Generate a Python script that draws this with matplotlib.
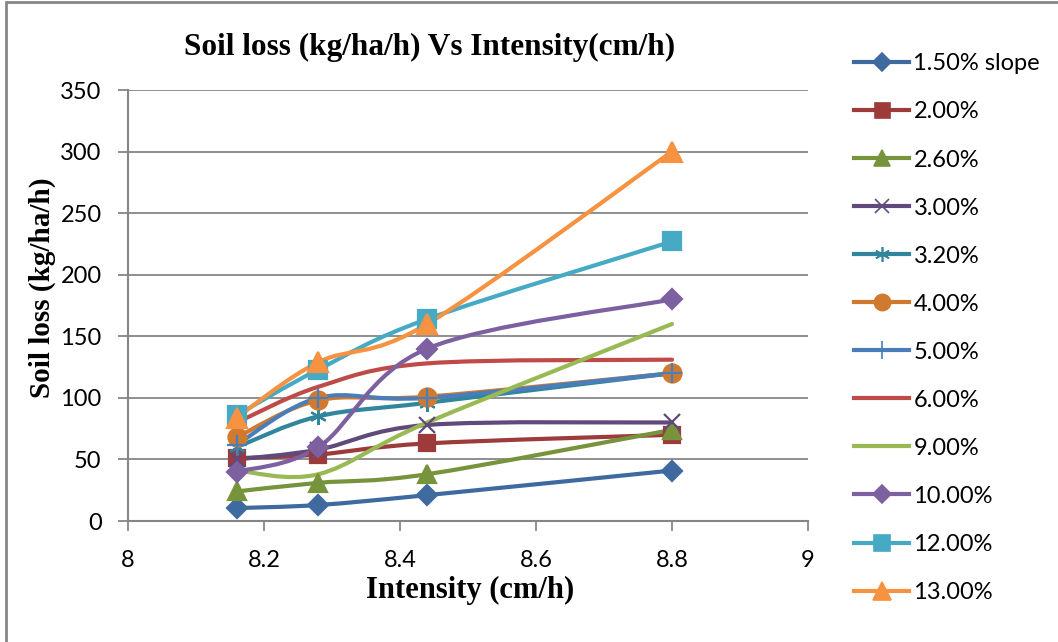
import matplotlib
matplotlib.use("Agg")
import matplotlib.pyplot as plt
from matplotlib.path import Path
from matplotlib.patches import PathPatch, Rectangle
from matplotlib.lines import Line2D

# rainfall intensity (cm/h) and soil loss (kg/ha/h) per slope class
intensity = [8.16, 8.28, 8.44, 8.8]
slopes = ["1.50% slope", "2.00%", "2.60%", "3.00%", "3.20%", "4.00%",
          "5.00%", "6.00%", "9.00%", "10.00%", "12.00%", "13.00%"]
loss_150 = [10.5, 13, 21, 41]
loss_200 = [51, 54, 63, 70]
loss_260 = [24, 31, 38, 74]
loss_300 = [50, 58, 78, 80]
loss_320 = [60, 85, 96, 120]
loss_400 = [68, 98, 101, 120]
loss_500 = [62, 100, 100, 120]
loss_600 = [80, 109, 128, 131]
loss_900 = [41, 38, 80, 160]
loss_1000 = [40, 60, 140, 180]
loss_1200 = [86, 123, 164, 227]
loss_1300 = [84, 129, 160, 300]
series = [loss_150, loss_200, loss_260, loss_300, loss_320, loss_400,
          loss_500, loss_600, loss_900, loss_1000, loss_1200, loss_1300]

colors = ["#3E6AA0", "#9C3B3A", "#77933C", "#604A7B", "#31859C", "#D07A30",
          "#4A7EBB", "#BE4B48", "#98B954", "#7D60A0", "#46AAC5", "#F69240"]
markers = ["D", "s", "^", "x", (6, 2, 0), "o", "+", None, None, "D", "s", "^"]
msizes = [10, 12, 13, 11, 12, 13, 15, 0, 0, 10, 13, 14]

sans = ["Lato", "DejaVu Sans"]
serif = ["Liberation Serif", "DejaVu Serif"]


def smooth_path(xs, ys):
    # excel-style smoothed line: cubic bezier through every point
    pts = list(zip(xs, ys))
    n = len(pts)
    verts = [pts[0]]
    codes = [Path.MOVETO]
    for i in range(n - 1):
        p0 = pts[max(i - 1, 0)]
        p1 = pts[i]
        p2 = pts[i + 1]
        p3 = pts[min(i + 2, n - 1)]
        c1 = (p1[0] + (p2[0] - p0[0]) / 6, p1[1] + (p2[1] - p0[1]) / 6)
        c2 = (p2[0] - (p3[0] - p1[0]) / 6, p2[1] - (p3[1] - p1[1]) / 6)
        verts += [c1, c2, p2]
        codes += [Path.CURVE4] * 3
    return Path(verts, codes)


fig = plt.figure(figsize=(10.58, 6.42), dpi=100)
ax = fig.add_axes([128 / 1058, 1 - 521 / 642, 680 / 1058, 431 / 642])

handles = []
for name, ys, c, m, ms in zip(slopes, series, colors, markers, msizes):
    ax.add_patch(PathPatch(smooth_path(intensity, ys), facecolor="none",
                           edgecolor=c, lw=3, zorder=3, capstyle="round"))
    if m is not None:
        ax.plot(intensity, ys, linestyle="none", marker=m, ms=ms, color=c,
                mew=1.6, zorder=4)
    handles.append(Line2D([], [], color=c, lw=3, marker=m,
                          ms=ms * 0.9 if ms else 0, mew=1.2, label=name))

ax.set_xlim(8, 9)
ax.set_ylim(0, 350)
ax.set_xticks([8, 8.2, 8.4, 8.6, 8.8, 9])
ax.set_xticklabels(["8", "8.2", "8.4", "8.6", "8.8", "9"])
ax.set_yticks(range(0, 351, 50))
ax.yaxis.grid(True, color="#868686", lw=1.3)
ax.set_axisbelow(True)
for s in ["top", "right"]:
    ax.spines[s].set_visible(False)
for s in ["left", "bottom"]:
    ax.spines[s].set_color("#868686")
    ax.spines[s].set_linewidth(1.5)
ax.tick_params(axis="both", direction="out", color="#868686", width=1.3,
               length=7, labelsize=17)
ax.tick_params(axis="x", pad=14)
ax.tick_params(axis="y", pad=12)
for lab in ax.get_xticklabels() + ax.get_yticklabels():
    lab.set_family(sans)

fig.text(470 / 1058, 1 - 590 / 642, "Intensity (cm/h)", family=serif,
         fontweight="bold", fontsize=22, ha="center", va="center")
fig.text(42 / 1058, 1 - 288 / 642, "Soil loss (kg/ha/h)", family=serif,
         fontweight="bold", fontsize=21, ha="center", va="center",
         rotation=90)
fig.text(430 / 1058, 1 - 47 / 642, "Soil loss (kg/ha/h) Vs Intensity(cm/h)",
         family=serif, fontweight="bold", fontsize=22.5, ha="center",
         va="center")

fig.legend(handles=handles, loc="upper left",
           bbox_to_anchor=(845 / 1058, 1 - 44 / 642), frameon=False,
           prop={"family": sans, "size": 17}, handlelength=2.3,
           handletextpad=0.2, labelspacing=1.145, borderaxespad=0)

# chart area frame
fig.patches.append(Rectangle((6 / 1058, -0.1), 1.2, 1 - 2 / 642 + 0.1,
                             transform=fig.transFigure, fill=False,
                             edgecolor="#868686", lw=2))

fig.savefig("out.png", dpi=100)
